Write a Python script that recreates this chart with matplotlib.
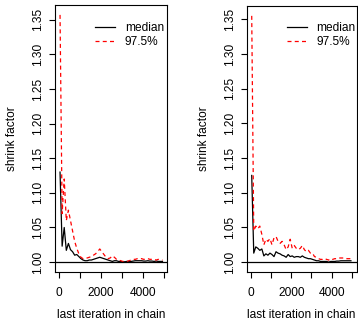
import numpy as np
import matplotlib
matplotlib.use("Agg")
import matplotlib.pyplot as plt

plt.rcParams["font.family"] = ["Liberation Sans", "DejaVu Sans"]

# last iteration in chain
iters = np.arange(50, 5000, 100)

# left panel
med_a = [1.130, 1.023, 1.050, 1.017, 1.027, 1.018, 1.015, 1.010, 1.011, 1.008,
         1.005, 1.003, 1.002, 1.002, 1.003, 1.003, 1.004, 1.005, 1.006, 1.007,
         1.006, 1.005, 1.004, 1.003, 1.002, 1.001, 1.002, 1.002, 1.001, 1.001,
         1.0005, 1.0005, 1.001, 1.001, 1.001, 1.0015, 1.002, 1.002, 1.002, 1.002,
         1.0015, 1.0015, 1.002, 1.0015, 1.0015, 1.001, 1.0015, 1.001, 1.001, 1.001]
upr_a = [1.357, 1.070, 1.120, 1.060, 1.075, 1.060, 1.045, 1.030, 1.020, 1.012,
         1.007, 1.005, 1.006, 1.006, 1.007, 1.008, 1.010, 1.012, 1.015, 1.019,
         1.015, 1.011, 1.007, 1.005, 1.006, 1.009, 1.007, 1.004, 1.003, 1.002,
         1.001, 1.001, 1.001, 1.002, 1.003, 1.004, 1.004, 1.005, 1.005, 1.005,
         1.004, 1.004, 1.005, 1.004, 1.004, 1.004, 1.003, 1.004, 1.003, 1.003]

# right panel
med_b = [1.125, 1.013, 1.022, 1.020, 1.017, 1.019, 1.009, 1.012, 1.010, 1.013,
         1.011, 1.008, 1.015, 1.013, 1.012, 1.010, 1.009, 1.007, 1.011, 1.008,
         1.009, 1.007, 1.008, 1.008, 1.007, 1.009, 1.007, 1.006, 1.005, 1.005,
         1.004, 1.003, 1.002, 1.002, 1.001, 1.001, 1.001, 1.001, 1.000, 1.001,
         1.001, 1.001, 1.0015, 1.0015, 1.002, 1.002, 1.002, 1.002, 1.002, 1.002]
upr_b = [1.355, 1.045, 1.052, 1.048, 1.052, 1.040, 1.025, 1.033, 1.030, 1.034,
         1.025, 1.035, 1.037, 1.030, 1.027, 1.030, 1.025, 1.018, 1.022, 1.033,
         1.020, 1.024, 1.020, 1.018, 1.020, 1.024, 1.018, 1.015, 1.017, 1.013,
         1.013, 1.008, 1.007, 1.005, 1.004, 1.004, 1.005, 1.004, 1.003, 1.005,
         1.004, 1.005, 1.005, 1.006, 1.006, 1.006, 1.006, 1.005, 1.005, 1.005]

yticks = [1.00, 1.05, 1.10, 1.15, 1.20, 1.25, 1.30, 1.35]
xticks = [0, 1000, 2000, 3000, 4000, 5000]
xlabels = ["0", "", "2000", "", "4000", ""]

W, H = 358, 322
fig = plt.figure(figsize=(W / 100, H / 100), dpi=100)

FS = 8.6


def panel(left, right, top, bottom, xlim, med, upr):
    ax = fig.add_axes([left / W, (H - bottom) / H, (right - left) / W, (bottom - top) / H])
    ax.plot(iters, med, color="black", lw=0.9, label="median")
    ax.plot(iters, upr, color="red", lw=0.9, dashes=(3.2, 2.6), label="97.5%")
    ax.axhline(1.0, color="black", lw=0.9)
    ax.set_xlim(xlim)
    lo = min(min(med), min(upr), 1.0)
    hi = max(max(med), max(upr))
    ext = 0.04 * (hi - lo)
    ax.set_ylim(lo - ext, hi + ext)
    ax.set_yticks(yticks)
    ax.set_yticklabels(["%.2f" % v for v in yticks], rotation=90, va="center")
    ax.set_xticks(xticks)
    ax.set_xticklabels(xlabels)
    ax.tick_params(direction="out", length=4.5, width=0.8, labelsize=FS, colors="black")
    ax.tick_params(axis="x", pad=6)
    ax.tick_params(axis="y", pad=3.5)
    for s in ax.spines.values():
        s.set_linewidth(0.8)
    w = right - left
    h = bottom - top
    ax.set_xlabel("last iteration in chain", fontsize=FS)
    ax.xaxis.label.set_va("center")
    ax.xaxis.set_label_coords(0.5, -(315 - bottom) / h)
    ax.set_ylabel("shrink factor", fontsize=FS)
    ax.yaxis.label.set_va("center")
    ax.yaxis.set_label_coords(-(left - (left - 43)) / w, 0.5)
    leg = ax.legend(loc="upper left", frameon=False, fontsize=FS,
                    bbox_to_anchor=((40) / w, (bottom - 22) / h),
                    borderpad=0, borderaxespad=0, handlelength=1.7,
                    handletextpad=0.8, labelspacing=0.15)
    return ax


panel(55, 167, 5, 272, (-191, 5167), med_a, upr_a)
panel(246.7, 356.5, 6, 272, (-198, 5225), med_b, upr_b)

fig.savefig("out.png", dpi=100)
